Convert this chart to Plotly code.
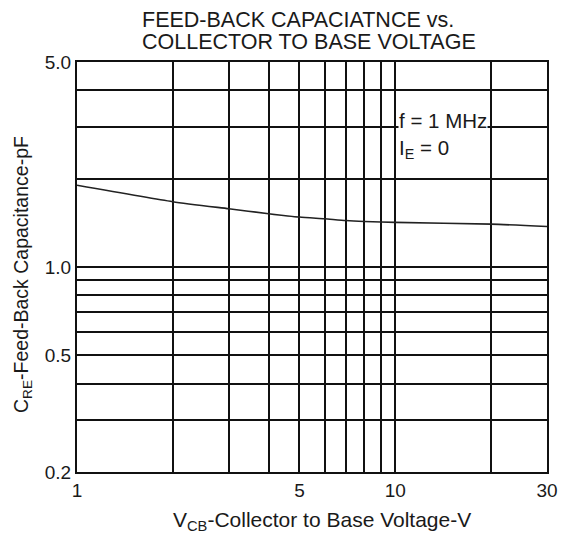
import plotly.graph_objects as go

# Data
vcb = [1, 2, 3, 4, 5, 6, 7, 8, 10, 20, 30]
cre = [1.90, 1.67, 1.58, 1.52, 1.48, 1.46, 1.44, 1.43, 1.42, 1.40, 1.375]

x_grid = [1, 2, 3, 4, 5, 6, 7, 8, 9, 10, 20, 30]
x_labels = {1: "1", 5: "5", 10: "10", 30: "30"}
y_grid = [0.2, 0.3, 0.4, 0.5, 0.6, 0.7, 0.8, 0.9, 1, 2, 3, 4, 5]
y_labels = {0.2: "0.2", 0.5: "0.5", 1: "1.0", 5: "5.0"}

FONT = "Liberation Sans, Arial, sans-serif"
INK = "#1a1a1a"

# The page body has an 8px default margin; the figure is sized so that the
# plot box lands at page x 77..547, y 62..472.
PL, PT, PW, PH = 77.0, 62.0, 470.0, 410.0


def px(x):
    return (x - PL) / PW


def py(y):
    return (PT + PH - y) / PH


fig = go.Figure()
fig.add_trace(go.Scatter(
    x=vcb, y=cre, mode="lines",
    line=dict(color="#222222", width=1.6, shape="spline", smoothing=0.6),
    showlegend=False, hoverinfo="skip",
))

fig.update_layout(
    width=563, height=525,
    margin=dict(l=69, r=24, t=54, b=61),
    paper_bgcolor="white", plot_bgcolor="white",
    font=dict(family=FONT, color=INK, size=19),
    xaxis=dict(
        type="log", range=[0, 1.4771],
        tickvals=x_grid, ticktext=[x_labels.get(v, "") for v in x_grid],
        showgrid=True, gridcolor="#111111", gridwidth=2,
        showline=True, linecolor="#111111", linewidth=2, mirror=True,
        ticks="", zeroline=False, tickfont=dict(size=19, family=FONT, color=INK),
        automargin=False, fixedrange=True,
    ),
    yaxis=dict(
        type="log", range=[-0.69897, 0.69897],
        tickvals=y_grid, ticktext=[y_labels.get(v, "") for v in y_grid],
        showgrid=True, gridcolor="#111111", gridwidth=2,
        showline=True, linecolor="#111111", linewidth=2, mirror=True,
        ticks="", zeroline=False, tickfont=dict(size=19, family=FONT, color=INK),
        automargin=False, fixedrange=True,
    ),
    annotations=[
        dict(text="FEED-BACK CAPACIATNCE vs.", xref="paper", yref="paper",
             x=px(140), y=py(20.5), xanchor="left", yanchor="middle",
             showarrow=False, font=dict(size=21.5, family=FONT, color=INK)),
        dict(text="COLLECTOR TO BASE VOLTAGE", xref="paper", yref="paper",
             x=px(140), y=py(42.5), xanchor="left", yanchor="middle",
             showarrow=False, font=dict(size=21.5, family=FONT, color=INK)),
        dict(text="V<sub>CB</sub>-Collector to Base Voltage-V", xref="paper", yref="paper",
             x=px(322), y=py(521), xanchor="center", yanchor="middle",
             showarrow=False, font=dict(size=21, family=FONT, color=INK)),
        dict(text="C<sub>RE</sub>-Feed-Back Capacitance-pF", xref="paper", yref="paper",
             x=px(22), y=py(275), xanchor="center", yanchor="middle",
             textangle=-90, showarrow=False, font=dict(size=19.5, family=FONT, color=INK)),
        dict(text="f = 1 MHz<br>I<sub>E</sub> = 0", xref="paper", yref="paper",
             x=px(398), y=py(108), xanchor="left", yanchor="top",
             align="left", showarrow=False, font=dict(size=20.5, family=FONT, color=INK),
             bgcolor="white", borderpad=0),
    ],
)

fig.write_html("out.html")
